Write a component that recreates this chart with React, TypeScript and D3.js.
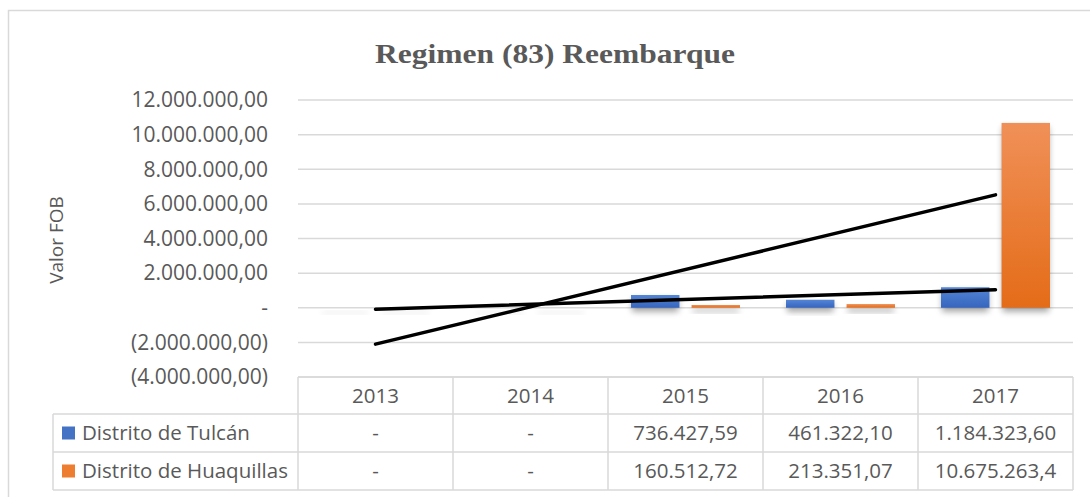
import { useEffect, useRef } from 'react';
import * as d3 from 'd3';

// chart data
const years = ['2013', '2014', '2015', '2016', '2017'];
const seriesNames = ['Distrito de Tulcán', 'Distrito de Huaquillas'];
const tulcan = [0, 0, 736427.59, 461322.1, 1184323.6];
const huaquillas = [0, 0, 160512.72, 213351.07, 10675263.4];
const tulcanLabels = ['-', '-', '736.427,59', '461.322,10', '1.184.323,60'];
const huaquillasLabels = ['-', '-', '160.512,72', '213.351,07', '10.675.263,4'];
const yTicks = [-4000000, -2000000, 0, 2000000, 4000000, 6000000, 8000000, 10000000, 12000000];

const W = 1090;
const H = 497;
const FONT = '"Open Sans", "Liberation Sans", sans-serif';
const TEXT = '#595959';
const GRID = '#D9D9D9';

const App = () => {
  const svgRef = useRef<SVGSVGElement>(null);

  useEffect(() => {
    if (!svgRef.current) return;
    const svg = d3.select(svgRef.current);
    svg.selectAll('*').remove();

    const left = 298, right = 1073;
    const tableTop = 377, rowH = [37, 38, 38];
    const legendLeft = 53;

    const x = d3.scaleBand().domain(years).range([left, right]);
    const sub = d3.scaleBand().domain(seriesNames).range([23, x.bandwidth() - 23]).paddingInner(0.2);
    const y = d3.scaleLinear().domain([-4000000, 12000000]).range([377, 100]);

    const locale = d3.formatLocale({ decimal: ',', thousands: '.', grouping: [3], currency: ['', ''] });
    const fmt = locale.format(',.2f');
    const tickFmt = (v: number) => (v === 0 ? '-' : v < 0 ? `(${fmt(-v)})` : fmt(v));

    const defs = svg.append('defs');
    const grad = (id: string, top: string, bottom: string) => {
      const g = defs.append('linearGradient').attr('id', id).attr('x1', 0).attr('y1', 0).attr('x2', 0).attr('y2', 1);
      g.append('stop').attr('offset', '0%').attr('stop-color', top);
      g.append('stop').attr('offset', '100%').attr('stop-color', bottom);
    };
    grad('gBlue', '#5585D6', '#3565BE');
    grad('gOrange', '#F09058', '#E46C18');
    defs.append('filter').attr('id', 'blur').attr('x', '-50%').attr('y', '-50%').attr('width', '200%').attr('height', '200%')
      .append('feGaussianBlur').attr('stdDeviation', 3);

    // outer border
    svg.append('rect').attr('x', 8.5).attr('y', 10.5).attr('width', 1100).attr('height', 520)
      .attr('fill', '#fff').attr('stroke', GRID).attr('stroke-width', 1.5);

    // title
    svg.append('text').attr('x', 555).attr('y', 63).attr('text-anchor', 'middle')
      .attr('font-family', '"Liberation Serif", "Times New Roman", serif').attr('font-weight', 'bold')
      .attr('font-size', 28).attr('fill', TEXT)
      .attr('textLength', 360).attr('lengthAdjust', 'spacingAndGlyphs')
      .text('Regimen (83) Reembarque');

    // gridlines and tick labels
    yTicks.forEach(t => {
      svg.append('line').attr('x1', left).attr('x2', right).attr('y1', y(t)).attr('y2', y(t))
        .attr('stroke', GRID).attr('stroke-width', 1.5);
      svg.append('text').attr('x', 268).attr('y', y(t)).attr('dy', '0.35em').attr('text-anchor', 'end')
        .attr('font-family', FONT).attr('font-size', 21).attr('fill', TEXT).text(tickFmt(t));
    });

    // y axis title
    svg.append('text').attr('transform', 'translate(63,240) rotate(-90)').attr('text-anchor', 'middle')
      .attr('font-family', FONT).attr('font-size', 19).attr('fill', TEXT).text('Valor FOB');

    // bars
    const allSeries = [tulcan, huaquillas];
    const fills = ['url(#gBlue)', 'url(#gOrange)'];
    allSeries.forEach((vals, si) => {
      const g = svg.append('g');
      vals.forEach((v, i) => {
        const bx = (x(years[i]) as number) + (sub(seriesNames[si]) as number);
        const top = y(Math.max(v, 0));
        const h = Math.abs(y(v) - y(0));
        g.append('rect').attr('x', bx + 1).attr('y', top + 4).attr('width', sub.bandwidth() - 2)
          .attr('height', Math.max(h, 2)).attr('fill', '#000').attr('opacity', h > 0 ? 0.35 : 0.12)
          .attr('filter', 'url(#blur)');
        g.append('rect').attr('x', bx).attr('y', top).attr('width', sub.bandwidth()).attr('height', h)
          .attr('fill', fills[si]);
      });
    });

    // linear trendlines
    allSeries.forEach(vals => {
      const xs = vals.map((_, i) => i + 1);
      const mx = d3.mean(xs) as number;
      const my = d3.mean(vals) as number;
      const sxy = d3.sum(xs, (xi, i) => (xi - mx) * (vals[i] - my));
      const sxx = d3.sum(xs, xi => (xi - mx) ** 2);
      const slope = sxy / sxx;
      const at = (xi: number) => my + slope * (xi - mx);
      const cx = (i: number) => (x(years[i]) as number) + x.bandwidth() / 2;
      svg.append('line').attr('x1', cx(0)).attr('y1', y(at(1))).attr('x2', cx(years.length - 1)).attr('y2', y(at(years.length)))
        .attr('stroke', '#000').attr('stroke-width', 3.5).attr('stroke-linecap', 'round');
    });

    // data table
    const r1 = tableTop + rowH[0];
    const r2 = r1 + rowH[1];
    const r3 = r2 + rowH[2];
    const tl = svg.append('g').attr('stroke', GRID).attr('stroke-width', 1.5);
    tl.append('line').attr('x1', left).attr('x2', right).attr('y1', tableTop).attr('y2', tableTop);
    [r1, r2, r3].forEach(ry => tl.append('line').attr('x1', legendLeft).attr('x2', right).attr('y1', ry).attr('y2', ry));
    tl.append('line').attr('x1', legendLeft).attr('x2', legendLeft).attr('y1', r1).attr('y2', r3);
    years.forEach(yr => {
      const bx = x(yr) as number;
      tl.append('line').attr('x1', bx).attr('x2', bx).attr('y1', tableTop).attr('y2', r3);
    });
    tl.append('line').attr('x1', right).attr('x2', right).attr('y1', tableTop).attr('y2', r3);

    const cellText = (tx: number, ty: number, s: string, anchor = 'middle') =>
      svg.append('text').attr('x', tx).attr('y', ty).attr('dy', '0.35em').attr('text-anchor', anchor)
        .attr('font-family', FONT).attr('font-size', 20.5).attr('fill', TEXT).text(s);

    years.forEach((yr, i) => {
      const cx = (x(yr) as number) + x.bandwidth() / 2;
      cellText(cx, (tableTop + r1) / 2, yr);
      cellText(cx, (r1 + r2) / 2, tulcanLabels[i]);
      cellText(cx, (r2 + r3) / 2, huaquillasLabels[i]);
    });

    const keyColors = ['#4472C4', '#ED7D31'];
    [[r1, r2], [r2, r3]].forEach(([a, b], si) => {
      const cy = (a + b) / 2;
      svg.append('rect').attr('x', 62).attr('y', cy - 6.5).attr('width', 13).attr('height', 13).attr('fill', keyColors[si]);
      cellText(82, cy, seriesNames[si], 'start');
    });
  }, []);

  return (
    <svg ref={svgRef} width={W} height={H}
      style={{ position: 'absolute', left: 0, top: 0, display: 'block', background: '#fff' }} />
  );
};

export default App;
